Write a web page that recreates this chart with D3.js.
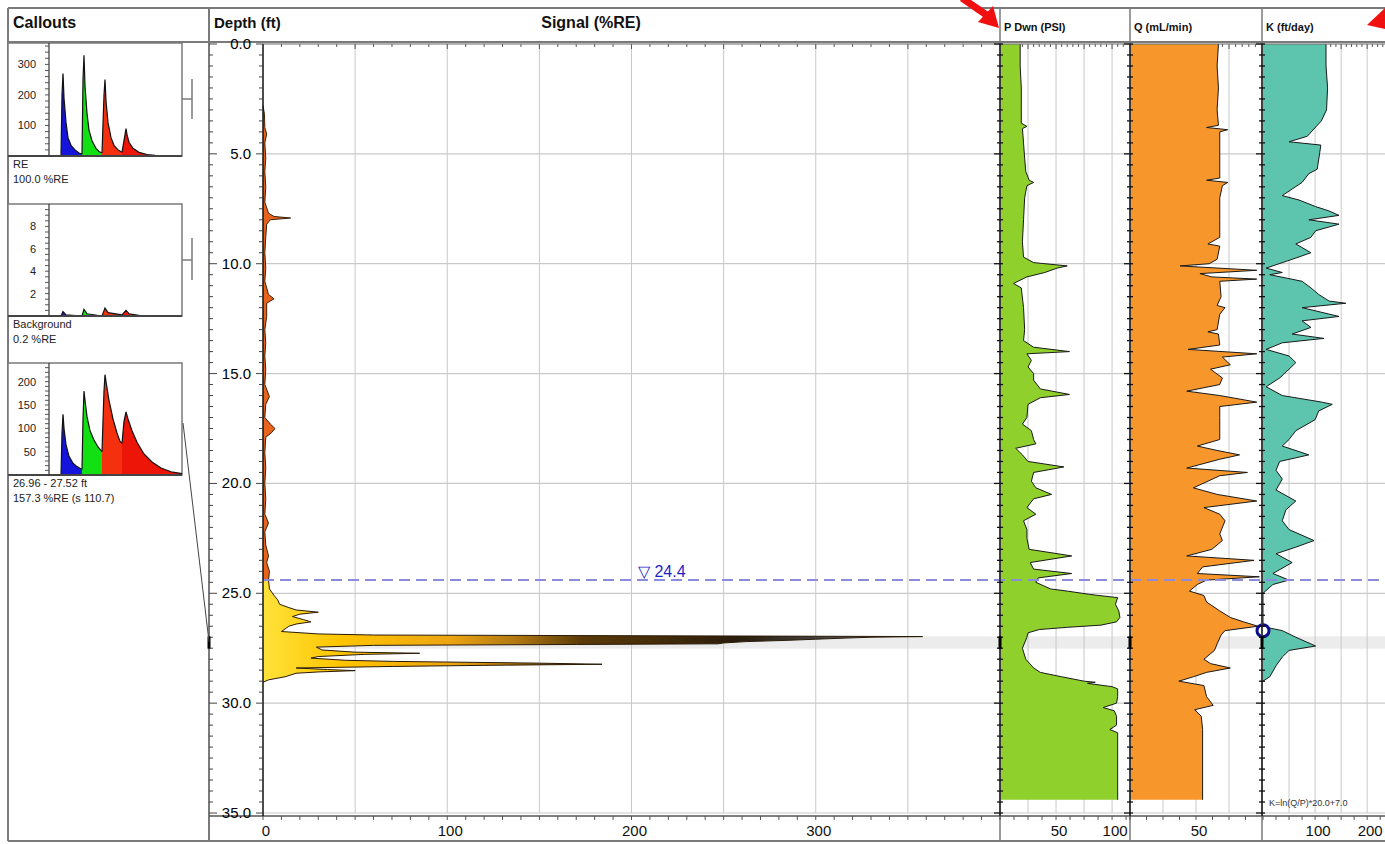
<!DOCTYPE html>
<html>
<head>
<meta charset="utf-8">
<script src="https://cdn.jsdelivr.net/npm/d3@7"></script>
<style>
body { margin: 0; background: #fff; }
svg { display: block; font-family: "Liberation Sans", Arial, sans-serif; }
</style>
</head>
<body>
<svg id="log" width="1385" height="844"></svg>
<script>
// ---------- data (read off the log) ----------
// signal, [depth ft, %RE]
const signalUpper = [[2.8,0],[3.2,0.8],[3.8,1],[4.1,2],[4.5,1],[5.2,1.5],[5.8,1],[6.5,1.5],[7.2,1],[7.7,3],[7.85,6],[7.92,15],[8.0,4],[8.2,2],[8.8,1.5],[9.5,1],[10.2,1.5],[10.8,1],[11.4,3],[11.6,6],[11.8,2],[12.4,2],[13,1],[13.6,1.5],[14.2,1],[14.8,1.5],[15.5,1],[16.05,3.5],[16.4,1.5],[17.0,1],[17.3,4],[17.5,6.5],[17.7,4.5],[17.9,1.5],[18.6,1],[19.3,1.5],[20.0,1],[20.7,1.5],[21.4,1],[21.8,3],[22.2,1],[22.8,1.5],[23.3,3],[23.6,2],[24.0,3.5],[24.4,3]];
const signalLower = [[24.4,3],[24.8,3.5],[25.1,6],[25.3,8],[25.5,9],[25.65,14],[25.76,18],[25.86,30],[25.95,20],[26.06,16],[26.2,22],[26.3,26],[26.4,18],[26.5,14],[26.74,10],[26.85,30],[26.9,60],[26.94,240],[26.97,358],[27.0,330],[27.04,316],[27.09,300],[27.14,285],[27.2,262],[27.26,250],[27.3,247],[27.33,170],[27.37,60],[27.45,29],[27.58,32],[27.68,50],[27.73,85],[27.78,55],[27.88,30],[27.95,26],[28.05,45],[28.1,71],[28.18,150],[28.23,184],[28.28,120],[28.33,71],[28.4,18],[28.47,35],[28.52,50],[28.58,30],[28.64,18],[28.8,12],[28.94,3],[29.05,0]];
// pressure drawdown, [depth, PSI]
const pDwn = [[0,18],[1,18],[2,19],[3,19],[3.6,19],[3.75,24],[3.85,20],[4.5,21],[5.2,22],[5.8,23],[6.2,26],[6.3,30],[6.45,24],[7,22],[8,21],[9,20],[9.7,21],[9.95,30],[10.1,60],[10.2,51],[10.4,40],[10.6,24],[10.9,12],[11.1,19],[12,21],[13,22],[13.5,21],[13.8,30],[14.0,62],[14.1,24],[14.4,28],[14.7,25],[15,30],[15.3,30],[15.7,36],[15.95,62],[16.1,36],[16.4,25],[17,24],[17.3,20],[17.6,28],[18.0,30],[18.2,32],[18.4,14],[18.7,20],[19.0,25],[19.25,57],[19.5,30],[19.9,28],[20.2,32],[20.5,46],[20.7,30],[21.1,24],[21.4,32],[21.7,21],[22.1,24],[22.5,24],[23.0,26],[23.3,64],[23.6,27],[23.9,30],[24.1,64],[24.3,34],[24.5,32],[24.8,45],[24.9,60],[25.05,80],[25.2,105],[25.5,103],[25.8,106],[26.1,107],[26.3,104],[26.45,90],[26.55,60],[26.65,35],[26.8,25],[27.0,24],[27.5,20],[28.0,23],[28.4,30],[28.6,36],[28.8,55],[29.0,75],[29.05,85],[29.1,78],[29.25,100],[29.35,105],[29.7,105],[30.0,104],[30.2,92],[30.35,102],[30.6,104],[31.0,104],[31.2,98],[31.35,105],[32,105],[33,105],[34,105],[34.4,105]];
// flow, [depth, mL/min]
const qFlow = [[0,67],[1,66],[2,67],[3,66],[3.7,67],[3.8,58],[3.9,74],[4.0,68],[5,68],[6.1,68],[6.2,58],[6.3,74],[6.45,70],[7,68],[8,68],[8.8,68],[9.1,59],[9.2,68],[9.8,66],[10.0,60],[10.1,38],[10.3,96],[10.45,53],[10.6,62],[10.7,96],[10.8,68],[11.5,69],[11.9,66],[12.0,72],[12.3,68],[13.0,66],[13.1,59],[13.2,67],[13.7,68],[13.9,44],[14.1,96],[14.25,70],[14.6,76],[14.8,61],[15.2,70],[15.5,68],[15.8,43],[16.0,68],[16.3,96],[16.5,68],[17,68],[18.0,68],[18.3,51],[18.5,66],[18.7,83],[18.9,68],[19.3,43],[19.5,89],[19.65,68],[20.2,48],[20.5,66],[20.8,96],[21.1,56],[21.4,68],[21.7,72],[22.3,68],[22.6,70],[23.0,62],[23.3,43],[23.5,94],[23.8,55],[24.1,51],[24.25,98],[24.4,58],[24.6,51],[24.9,45],[25.1,56],[25.4,58],[25.8,68],[26.1,76],[26.3,86],[26.5,97],[26.7,72],[26.9,69],[27.3,66],[27.6,64],[28.0,56],[28.2,61],[28.4,76],[28.6,58],[28.8,48],[29.0,37],[29.2,56],[29.7,58],[30.1,63],[30.3,49],[30.6,54],[31.2,55],[32,55],[33,55],[34,55],[34.4,55]];
// hydraulic conductivity, [depth, ft/day]
const kCond = [[0,121],[1,121],[2,124],[3,122],[3.5,112],[4.2,85],[4.45,50],[4.6,111],[5.1,108],[5.7,104],[5.9,88],[6.3,75],[6.9,37],[7.1,69],[7.4,101],[7.6,127],[7.8,146],[8.0,88],[8.2,146],[8.5,101],[8.8,92],[9.1,63],[9.5,92],[9.8,56],[10.2,6],[10.4,37],[10.5,13],[10.8,75],[11.1,92],[11.4,107],[11.7,127],[11.8,159],[12.0,75],[12.4,146],[12.6,75],[12.9,92],[13.2,56],[13.4,117],[13.6,37],[13.9,6],[14.2,50],[14.5,63],[14.8,50],[15.2,32],[15.6,6],[16.0,37],[16.3,113],[16.4,133],[16.7,107],[17.1,100],[17.6,63],[18.0,50],[18.3,37],[18.7,88],[19.0,32],[19.4,25],[19.8,37],[20.3,25],[20.8,63],[21.2,44],[21.7,37],[22.1,50],[22.6,98],[22.9,63],[23.2,25],[23.6,56],[24.1,19],[24.4,50],[24.6,19],[25.0,0],[26.5,0],[26.55,6],[26.7,37],[27.0,63],[27.4,101],[27.6,50],[27.9,37],[28.3,25],[28.8,13],[29.0,0]];

// callout spectra, [channel, value]
const reBlue = [[12,0],[13,200],[14,270],[15,190],[17,110],[19,60],[22,35],[26,20],[30,10],[33,6]];
const reGreen = [[33,6],[34,250],[35,330],[36,230],[38,140],[40,85],[43,50],[47,25],[50,15],[53,10]];
const reRed = [[53,10],[55,200],[56,250],[57,180],[59,110],[62,60],[65,35],[69,20],[73,12]];
const reRed2 = [[73,12],[76,70],[77,90],[78,70],[80,45],[84,25],[90,12],[98,5],[106,2],[115,0]];
const bgBlue = [[12,0],[14,0.4],[17,0.1],[33,0]];
const bgGreen = [[33,0],[35,0.6],[38,0.2],[53,0]];
const bgRed = [[53,0],[56,0.7],[59,0.3],[73,0.1]];
const bgRed2 = [[73,0.1],[77,0.5],[80,0.2],[90,0.05],[100,0]];
const winBlue = [[12,0],[13,90],[14,130],[15,100],[17,65],[20,40],[24,25],[28,18],[33,12]];
const winGreen = [[33,12],[34,120],[35,180],[36,160],[38,125],[41,95],[45,75],[49,60],[53,50]];
const winRed = [[53,50],[55,180],[56,215],[57,200],[60,160],[64,120],[68,90],[71,72],[73,68]];
const winRed2 = [[73,68],[75,115],[77,135],[79,120],[83,95],[88,70],[95,45],[103,28],[112,15],[122,7],[133,3]];

const depthLabels = [0, 5, 10, 15, 20, 25, 30, 35];
const signalLabels = [0, 100, 200, 300];
const pLabels = [50, 100];
const qLabels = [50];
const kLabels = [100, 200];
const waterLevel = 24.4;
const calloutTop = 26.96, calloutBottom = 27.52;
const kMarkDepth = 26.7;

// ---------- scales ----------
const svg = d3.select("#log");
const y = d3.scaleLinear().domain([0, 35]).range([44, 813]);
const xSig = d3.scaleLinear().domain([0, 400]).range([263, 1000]);
const xP = d3.scaleLinear().domain([0, 116]).range([1000, 1130]);
const xQ = d3.scaleLinear().domain([0, 100]).range([1130, 1262]);
const xK = d3.scaleLinear().domain([0, 240]).range([1263, 1388]);
const frame = "#7a7a7a", grid = "#c9c9c9";

function hline(x1, x2, yy, color, w) {
	return svg.append("line").attr("x1", x1).attr("x2", x2).attr("y1", yy).attr("y2", yy)
		.attr("stroke", color).attr("stroke-width", w);
}
function vline(xx, y1, y2, color, w) {
	return svg.append("line").attr("x1", xx).attr("x2", xx).attr("y1", y1).attr("y2", y2)
		.attr("stroke", color).attr("stroke-width", w);
}

//callout depth band
svg.append("rect")
	.attr("x", 263).attr("width", 1385 - 263)
	.attr("y", y(calloutTop)).attr("height", y(calloutBottom) - y(calloutTop))
	.attr("fill", "#ececec");

//gridlines for each track
function drawGrid(xs, step, max) {
	const r = xs.range();
	d3.range(step, max + 0.01, step).forEach(v => {
		if (xs(v) < r[1] - 2) vline(xs(v), y(0), y(35), grid, 1);
	});
	d3.range(5, 35.01, 5).forEach(d => hline(r[0], Math.min(r[1], 1385), y(d), grid, 1.2));
	//top ticks
	d3.range(step / 5, max, step / 5).forEach(v => {
		if (xs(v) < r[1] - 2) vline(xs(v), y(0), y(0) + (Math.abs(v % step) < 0.01 ? 5 : 3), "#555", 1);
	});
}
drawGrid(xSig, 50, 400);
drawGrid(xP, 25, 116);
drawGrid(xQ, 25, 100);
drawGrid(xK, 50, 240);

// ---------- signal track ----------
const defs = svg.append("defs");
const grad = defs.append("linearGradient").attr("id", "sigGrad")
	.attr("gradientUnits", "userSpaceOnUse")
	.attr("x1", xSig(0)).attr("x2", xSig(360)).attr("y1", 0).attr("y2", 0);
[[0, "#ffe23a"], [0.12, "#ffc400"], [0.28, "#eda512"], [0.38, "#b27812"], [0.48, "#5a3a08"],
 [0.72, "#2a1d0c"], [0.86, "#4a4a4a"], [1, "#9a9a9a"]].forEach(s => {
	grad.append("stop").attr("offset", s[0]).attr("stop-color", s[1]);
});

function drawArea(data, xs, fill, strokeColor) {
	const area = d3.area().y(d => y(d[0])).x0(xs(0)).x1(d => xs(d[1]));
	const line = d3.line().y(d => y(d[0])).x(d => xs(d[1]));
	svg.append("path").datum(data).attr("d", area).attr("fill", fill);
	svg.append("path").datum(data).attr("d", line)
		.attr("fill", "none").attr("stroke", strokeColor).attr("stroke-width", 1);
}
drawArea(signalUpper, xSig, "#e8641c", "#3a2208");
drawArea(signalLower, xSig, "url(#sigGrad)", "#2a1a06");

// ---------- P, Q, K tracks ----------
drawArea(pDwn, xP, "#8fd02c", "#1a1a1a");
drawArea(qFlow, xQ, "#f7962b", "#1a1a1a");
drawArea(kCond, xK, "#5dc4ad", "#1a1a1a");

//water level line
hline(263, 1385, y(waterLevel), "#8c8cdc", 2).attr("stroke-dasharray", "11,6");
svg.append("text").attr("x", 638).attr("y", y(waterLevel) - 3)
	.attr("fill", "#1f1fc8").style("font-size", "16px")
	.text("\u25BD 24.4");

//K marker
svg.append("circle").attr("cx", xK(0)).attr("cy", y(kMarkDepth)).attr("r", 6)
	.attr("fill", "#fff").attr("stroke", "#0b0b8e").attr("stroke-width", 3);

svg.append("text").attr("x", 1269).attr("y", 806)
	.style("font-size", "9px").attr("fill", "#333")
	.text("K=ln(Q/P)*20.0+7.0");

// ---------- frame ----------
hline(8, 1385, 8, frame, 2);
hline(8, 1385, 42, frame, 2);
hline(8, 1385, 841, frame, 2);
vline(8, 8, 841, frame, 2);
vline(209, 8, 841, frame, 2);
[1000, 1130, 1262].forEach(xx => vline(xx, 8, 841, frame, 1.5));
hline(263, 1385, y(0), "#666", 1.2);
hline(209, 1385, 816, "#555", 1.5);

//depth axis
vline(xSig(0), y(0), 816, "#111", 1.5);
[1000, 1130, 1262].forEach(xx => vline(xx, y(0), 816, "#222", 1.5));
d3.range(0, 35.01, 0.5).forEach(d => {
	const major = Math.abs(d % 5) < 0.01;
	hline(209, 209 + (major ? 8 : 4), y(d), "#444", 1);
	hline(xSig(0) - (major ? 7 : 4), xSig(0), y(d), "#444", 1);
	[1000, 1130, 1262].forEach(xx => hline(xx - (major ? 6 : 3), xx + 3, y(d), "#111", 1.3));
});
svg.selectAll(".depthLabel").data(depthLabels).enter().append("text")
	.attr("class", "depthLabel")
	.attr("x", 251).attr("y", d => y(d) + 5)
	.attr("text-anchor", "end").style("font-size", "15px").attr("fill", "#000")
	.text(d => d.toFixed(1));

//callout depth marks
[209, 1000, 1130, 1262].forEach(xx => {
	svg.append("rect").attr("x", xx - 1.5).attr("width", 3)
		.attr("y", y(calloutTop)).attr("height", y(calloutBottom) - y(calloutTop))
		.attr("fill", "#000");
});

//bottom axes
function bottomAxis(xs, step, labels) {
	const r = xs.range();
	d3.range(0, xs.domain()[1], step).forEach(v => {
		if (xs(v) < Math.min(r[1], 1385)) vline(xs(v), 816, 820, "#555", 1);
	});
	svg.selectAll(null).data(labels).enter().append("text")
		.attr("x", d => xs(d) + 3).attr("y", 836)
		.attr("text-anchor", "middle").style("font-size", "15px").attr("fill", "#111")
		.text(d => d);
}
bottomAxis(xSig, 10, signalLabels);
bottomAxis(xP, 12.5, pLabels);
bottomAxis(xQ, 12.5, qLabels);
bottomAxis(xK, 25, kLabels);

//headers
function header(x, text, size, anchor) {
	svg.append("text").attr("x", x).attr("y", size > 13 ? 28 : 31)
		.attr("text-anchor", anchor || "start")
		.style("font-size", size + "px").style("font-weight", "bold").attr("fill", "#111")
		.text(text);
}
header(13, "Callouts", 16);
header(214, "Depth (ft)", 15);
header(591, "Signal (%RE)", 16, "middle");
header(1004, "P Dwn (PSI)", 11);
header(1134, "Q (mL/min)", 11);
header(1266, "K (ft/day)", 11);

// ---------- callouts ----------
const chan = d3.scaleLinear().domain([0, 133]).range([49, 182]);
const segColors = ["#1414dc", "#12e012", "#f5300f", "#ec1508"];

function callout(top, bottom, maxV, ticks, minor, segs, lines, bracket) {
	const cy = d3.scaleLinear().domain([0, maxV]).range([bottom, top]);
	svg.append("rect").attr("x", 8).attr("y", top).attr("width", 174).attr("height", bottom - top)
		.attr("fill", "#fff").attr("stroke", frame).attr("stroke-width", 1.5);
	segs.forEach((seg, i) => {
		svg.append("path").datum(seg)
			.attr("d", d3.area().x(d => chan(d[0])).y0(bottom).y1(d => cy(d[1])))
			.attr("fill", segColors[i]);
		svg.append("path").datum(seg)
			.attr("d", d3.line().x(d => chan(d[0])).y(d => cy(d[1])))
			.attr("fill", "none").attr("stroke", "#111").attr("stroke-width", 1.2);
	});
	hline(8, 182, bottom, "#444", 2);
	vline(49, top, bottom, "#333", 1.2);
	d3.range(minor, maxV, minor).forEach(v => hline(45, 49, cy(v), "#555", 1));
	svg.selectAll(null).data(ticks).enter().append("text")
		.attr("x", 36).attr("y", d => cy(d) + 4).attr("text-anchor", "end")
		.style("font-size", "11px").attr("fill", "#222").text(d => d);
	lines.forEach((t, i) => {
		svg.append("text").attr("x", 13).attr("y", bottom + 12 + i * 15)
			.style("font-size", "11px").attr("fill", "#222").text(t);
	});
	if (bracket) {
		hline(182, 192, bracket[1], frame, 1.5);
		vline(192, bracket[0], bracket[2], frame, 1.5);
	}
}
callout(43, 156, 370, [100, 200, 300], 20, [reBlue, reGreen, reRed, reRed2],
	["RE", "100.0 %RE"], [79, 99, 119]);
callout(204, 316, 10, [2, 4, 6, 8], 0.5, [bgBlue, bgGreen, bgRed, bgRed2],
	["Background", "0.2 %RE"], [238, 260, 280]);
callout(363, 475, 240, [50, 100, 150, 200], 10, [winBlue, winGreen, winRed, winRed2],
	["26.96 - 27.52 ft", "157.3 %RE (s 110.7)"], null);
svg.append("line").attr("x1", 183).attr("y1", 423).attr("x2", 209).attr("y2", y(27.2))
	.attr("stroke", "#444").attr("stroke-width", 1);

// ---------- red annotation arrows ----------
svg.append("line").attr("x1", 962).attr("y1", -2).attr("x2", 988).attr("y2", 16)
	.attr("stroke", "#f01010").attr("stroke-width", 7);
svg.append("polygon").attr("points", "999,28 978,22 993,6").attr("fill", "#f01010");
svg.append("polygon").attr("points", "1367,25 1385,8 1385,29").attr("fill", "#f01010");
</script>
</body>
</html>
